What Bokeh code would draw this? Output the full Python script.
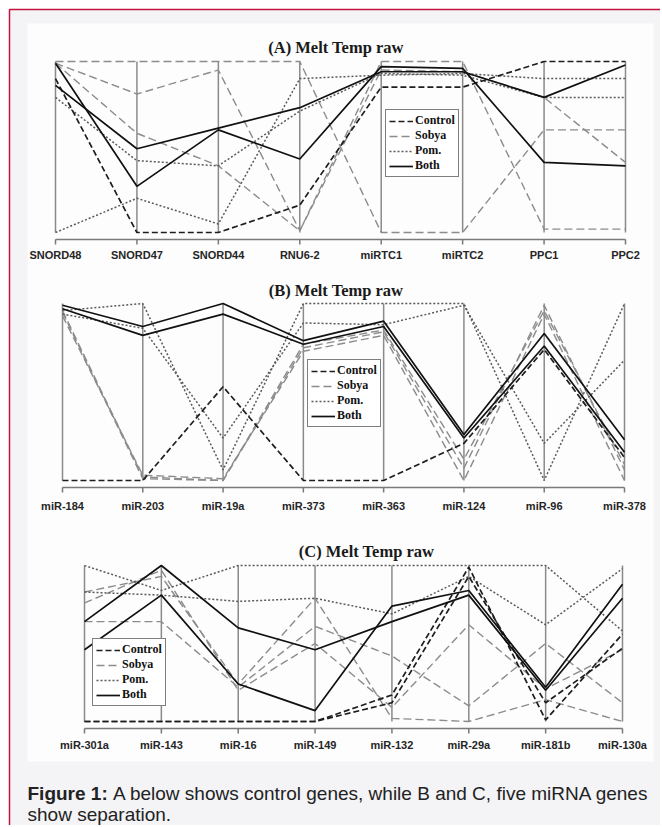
from bokeh.plotting import figure
from bokeh.models import Range1d, Legend, LegendItem
from bokeh.core.properties import value
from bokeh.embed import file_html
from bokeh.resources import INLINE

# ---------------- data (normalised melt temperature, 0 = axis bottom, 1 = axis top) ----
A_LABELS = ["SNORD48", "SNORD47", "SNORD44", "RNU6-2", "miRTC1", "miRTC2", "PPC1", "PPC2"]
A_CONTROL = [[0.90, 0.00, 0.00, 0.16, 0.85, 0.85, 1.00, 1.00]]
A_SOBYA = [[1.00, 1.00, 1.00, 1.00, 0.00, 0.00, 0.60, 0.60],
           [0.99, 0.81, 0.95, 0.01, 1.00, 1.00, 0.02, 0.02],
           [0.99, 0.58, 0.39, 0.01, 0.95, 0.94, 0.79, 0.41]]
A_POM = [[0.79, 0.42, 0.39, 0.71, 0.93, 0.92, 0.79, 0.79],
         [0.00, 0.20, 0.05, 0.90, 0.92, 0.93, 0.90, 0.90]]
A_BOTH = [[0.99, 0.27, 0.60, 0.43, 0.97, 0.96, 0.41, 0.39],
          [0.86, 0.49, 0.61, 0.73, 0.94, 0.94, 0.79, 0.98]]

B_LABELS = ["miR-184", "miR-203", "miR-19a", "miR-373", "miR-363", "miR-124", "miR-96", "miR-378"]
B_CONTROL = [[0.00, 0.00, 0.53, 0.00, 0.00, 0.21, 0.74, 0.13]]
B_SOBYA = [[0.96, 0.02, 0.00, 0.75, 0.84, 0.07, 0.99, 0.06],
           [0.93, 0.03, 0.01, 0.73, 0.82, 0.00, 0.94, 0.00],
           [0.95, 0.01, 0.00, 0.77, 0.85, 0.12, 0.96, 0.09]]
B_POM = [[0.96, 1.00, 0.06, 1.00, 1.00, 1.00, 0.00, 1.00],
         [0.94, 0.86, 0.24, 0.89, 0.88, 0.99, 0.21, 0.68]]
B_BOTH = [[0.99, 0.87, 1.00, 0.79, 0.90, 0.26, 0.83, 0.23],
          [0.97, 0.82, 0.94, 0.77, 0.87, 0.24, 0.76, 0.16]]

C_LABELS = ["miR-301a", "miR-143", "miR-16", "miR-149", "miR-132", "miR-29a", "miR-181b", "miR-130a"]
C_CONTROL = [[0.00, 0.00, 0.00, 0.00, 0.17, 0.99, 0.01, 0.56],
             [0.00, 0.00, 0.00, 0.00, 0.12, 0.93, 0.12, 0.47]]
C_SOBYA = [[0.64, 0.64, 0.22, 0.61, 0.42, 0.10, 0.50, 0.12],
           [0.83, 0.93, 0.24, 0.79, 0.02, 0.00, 0.14, 0.00],
           [0.76, 0.97, 0.20, 0.50, 0.09, 0.62, 0.21, 0.46]]
C_POM = [[1.00, 0.84, 1.00, 1.00, 1.00, 1.00, 1.00, 0.58],
         [0.83, 0.81, 0.77, 0.79, 0.69, 0.93, 0.62, 0.98]]
C_BOTH = [[0.64, 1.00, 0.60, 0.46, 0.64, 0.81, 0.20, 0.79],
          [0.46, 0.81, 0.24, 0.07, 0.74, 0.84, 0.22, 0.88]]

GROUP_NAMES = ["Control", "Sobya", "Pom.", "Both"]
TITLES = ["(A) Melt Temp raw", "(B) Melt Temp raw", "(C) Melt Temp raw"]
CAPTION_BOLD = "Figure 1:"
CAPTION_LINE1 = "A below shows control genes, while B and C, five miRNA genes"
CAPTION_LINE2 = "show separation."

# ---------------- styles / layout (page pixels) ----------------
W, H = 660, 825
RED = "#c2143e"
BOX_BG = "#f4f3f6"
IMG_BG = "#fdfdfd"
STYLE = {
    "Control": dict(line_color="#1e1e1e", line_dash="6 3", line_width=1.7),
    "Sobya": dict(line_color="#8c8c8c", line_dash="8 4", line_width=1.4),
    "Pom.": dict(line_color="#5a5a5a", line_dash="2 2", line_width=1.5),
    "Both": dict(line_color="#111111", line_dash="solid", line_width=1.7),
}
LAYOUTS = {
    "A": dict(x0=55, x7=625, y1=61, y0=232, axis=239, lab=254, title=(335.5, 47), leg=(385, 177)),
    "B": dict(x0=62, x7=624, y1=303, y0=480, axis=487, lab=505, title=(335.5, 290), leg=(307, 427)),
    "C": dict(x0=84, x7=622, y1=565, y0=721, axis=728, lab=744, title=(366, 551), leg=(92, 706)),
}

p = figure(width=W, height=H, x_range=Range1d(0, W), y_range=Range1d(H, 0),
           min_border=0, x_axis_type=None, y_axis_type=None,
           toolbar_location=None, output_backend="svg")
p.outline_line_color = None
p.background_fill_color = "white"
p.border_fill_color = "white"

# framed box and image background
p.quad(left=[9], right=[W + 10], top=[9], bottom=[H + 10],
       fill_color=BOX_BG, line_color=RED, line_width=1.5)
p.quad(left=[27], right=[653], top=[23], bottom=[761], fill_color=IMG_BG, line_color=None)


def draw_panel(key, title, labels, groups):
    lay = LAYOUTS[key]
    n = len(labels)
    ppu = (lay["x7"] - lay["x0"]) / (n - 1)
    ppv = lay["y0"] - lay["y1"]
    p.extra_x_ranges[key] = Range1d(-lay["x0"] / ppu, (n - 1) + (W - lay["x7"]) / ppu)
    p.extra_y_ranges[key] = Range1d(-(H - lay["y0"]) / ppv, 1 + lay["y1"] / ppv)
    kw = dict(x_range_name=key, y_range_name=key)
    idx = list(range(n))

    # parallel axes
    p.segment(x0=idx, y0=[0] * n, x1=idx, y1=[1] * n, line_color="#8a8a8a", line_width=1.5, **kw)

    renderers = {}
    for name in ["Sobya", "Pom.", "Control", "Both"]:
        series = groups[name]
        renderers[name] = p.multi_line(xs=[idx] * len(series), ys=series, **STYLE[name], **kw)

    # bottom category axis
    v_axis = (lay["y0"] - lay["axis"]) / ppv
    v_tick = v_axis - 5 / ppv
    v_lab = (lay["y0"] - lay["lab"]) / ppv
    p.segment(x0=[0], y0=[v_axis], x1=[n - 1], y1=[v_axis], line_color="#7a7a7a", line_width=1.5, **kw)
    p.segment(x0=idx, y0=[v_axis] * n, x1=idx, y1=[v_tick] * n, line_color="#7a7a7a", line_width=1.5, **kw)
    p.text(x=idx, y=[v_lab] * n, text=labels, text_align="center", text_baseline="middle",
           text_font=value("Liberation Sans"), text_font_style="bold", text_font_size="11px",
           text_color="#262626", **kw)

    # title
    tx, ty = lay["title"]
    p.text(x=[tx], y=[ty], text=[title], text_align="center", text_baseline="middle",
           text_font=value("Liberation Serif"), text_font_style="bold", text_font_size="16.5px",
           text_color="#1a1a1a")

    legend = Legend(items=[LegendItem(label=g, renderers=[renderers[g]]) for g in GROUP_NAMES],
                    location=(lay["leg"][0], H - lay["leg"][1]),
                    border_line_color="black", border_line_width=1.5,
                    background_fill_color="white", background_fill_alpha=1.0,
                    padding=3, spacing=0, margin=0, glyph_width=24, glyph_height=12,
                    label_height=12, label_standoff=2,
                    label_text_font="Liberation Serif", label_text_font_style="bold",
                    label_text_font_size="12px", label_text_color="#111111")
    p.add_layout(legend)


draw_panel("A", TITLES[0], A_LABELS,
           {"Control": A_CONTROL, "Sobya": A_SOBYA, "Pom.": A_POM, "Both": A_BOTH})
draw_panel("B", TITLES[1], B_LABELS,
           {"Control": B_CONTROL, "Sobya": B_SOBYA, "Pom.": B_POM, "Both": B_BOTH})
draw_panel("C", TITLES[2], C_LABELS,
           {"Control": C_CONTROL, "Sobya": C_SOBYA, "Pom.": C_POM, "Both": C_BOTH})

# caption
cap = dict(text_baseline="middle", text_font=value("Liberation Sans"), text_font_size="19px",
           text_color="#222222")
p.text(x=[27], y=[793], text=[CAPTION_BOLD], text_align="left", text_font_style="bold", **cap)
p.text(x=[649], y=[793], text=[CAPTION_LINE1], text_align="right", **cap)
p.text(x=[27], y=[814], text=[CAPTION_LINE2], text_align="left", **cap)

with open("out.html", "w") as f:
    f.write(file_html(p, INLINE, title="Melt Temp raw"))
